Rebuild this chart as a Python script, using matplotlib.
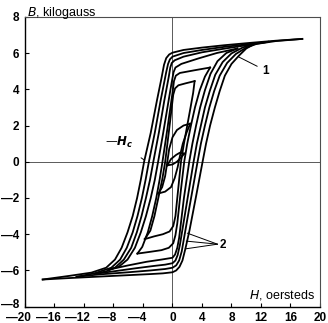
import matplotlib
matplotlib.use("Agg")
import matplotlib.pyplot as plt
from matplotlib.ticker import FuncFormatter
from matplotlib.transforms import ScaledTranslation

# ----------------------------------------
# Hysteresis loops of a soft magnetic steel
# ----------------------------------------
# Each loop is stored as two branches of (H [Oe], B [kG]) points:
# descending (from +tip to -tip) and ascending (from -tip to +tip).

# loop 1 - largest field amplitude
L1_DOWN = [(17.6, 6.78), (14.0, 6.68), (10.5, 6.56), (7.0, 6.43), (4.0, 6.3), (1.5, 6.17),
           (0.0, 6.02), (-0.45, 5.92), (-0.85, 5.72), (-1.15, 5.35), (-1.5, 4.6),
           (-2.1, 3.4), (-2.95, 1.6), (-3.85, 0.0), (-4.3, -1.0), (-4.8, -2.0),
           (-5.4, -3.0), (-6.1, -3.9), (-6.9, -4.75), (-7.8, -5.4), (-9.0, -5.85),
           (-11.0, -6.12), (-14.0, -6.3), (-17.6, -6.5)]
L1_UP = [(-17.6, -6.5), (-14.0, -6.42), (-10.0, -6.34), (-6.0, -6.26), (-3.0, -6.2),
         (-1.3, -6.16), (0.0, -6.1), (0.5, -6.0), (0.95, -5.8), (1.35, -5.45),
         (1.75, -4.8), (2.3, -3.8), (3.2, -1.9), (4.08, 0.0), (4.55, 1.0), (5.1, 2.0),
         (5.75, 3.0), (6.4, 3.9), (7.1, 4.75), (8.0, 5.4), (9.0, 5.85), (10.0, 6.25),
         (11.0, 6.48), (14.0, 6.66), (17.6, 6.78)]

# loop 2
L2_DOWN = [(13.0, 6.62), (10.5, 6.5), (7.0, 6.34), (4.0, 6.17), (1.5, 6.0), (0.0, 5.8),
           (-0.35, 5.65), (-0.6, 5.4), (-0.85, 4.95), (-1.6, 3.4), (-2.4, 1.6),
           (-3.2, 0.0), (-3.65, -1.0), (-4.15, -2.0), (-4.75, -3.0), (-5.4, -3.9),
           (-6.2, -4.75), (-7.1, -5.4), (-8.3, -5.85), (-10.5, -6.15), (-13.0, -6.35)]
L2_UP = [(-13.0, -6.35), (-10.0, -6.22), (-6.0, -6.1), (-3.0, -6.0), (-1.0, -5.92),
         (0.0, -5.85), (0.5, -5.72), (0.9, -5.45), (1.25, -4.95), (2.3, -2.5),
         (3.4, 0.0), (3.85, 1.0), (4.4, 2.0), (5.0, 3.0), (5.65, 3.9), (6.4, 4.75),
         (7.4, 5.45), (8.6, 5.95), (10.0, 6.3), (11.5, 6.52), (13.0, 6.62)]

# loop 3
L3_DOWN = [(10.8, 6.48), (7.0, 6.24), (4.0, 6.04), (1.5, 5.8), (0.3, 5.6), (-0.1, 5.45),
           (-0.3, 5.2), (-0.5, 4.7), (-1.1, 3.4), (-1.85, 1.6), (-2.6, 0.0),
           (-3.05, -1.0), (-3.6, -2.0), (-4.2, -3.0), (-4.84, -3.9), (-5.6, -4.75),
           (-6.6, -5.4), (-7.8, -5.85), (-9.0, -6.05), (-10.5, -6.18)]
L3_UP = [(-10.5, -6.18), (-8.0, -6.05), (-5.0, -5.88), (-2.5, -5.75), (-1.0, -5.68),
         (0.0, -5.6), (0.4, -5.45), (0.7, -5.15), (1.0, -4.6), (1.85, -2.5),
         (2.86, 0.0), (3.3, 1.0), (3.85, 2.0), (4.4, 3.0), (5.05, 3.9), (5.8, 4.8),
         (6.8, 5.5), (8.0, 5.98), (9.5, 6.3), (10.8, 6.48)]

# loop 4
L4_DOWN = [(8.8, 6.25), (6.0, 6.0), (3.5, 5.7), (1.2, 5.4), (0.4, 5.2), (0.15, 4.95),
           (-0.1, 4.4), (-0.6, 3.2), (-1.3, 1.5), (-1.95, 0.0), (-2.4, -1.0),
           (-2.95, -2.0), (-3.6, -3.0), (-4.3, -3.9), (-5.1, -4.75), (-6.1, -5.4),
           (-7.3, -5.8), (-8.6, -5.95)]
L4_UP = [(-8.6, -5.95), (-6.0, -5.72), (-3.5, -5.52), (-1.5, -5.4), (0.0, -5.3),
         (0.35, -5.12), (0.65, -4.75), (0.9, -4.2), (1.55, -2.0), (2.27, 0.0),
         (2.7, 1.0), (3.2, 2.0), (3.75, 3.0), (4.4, 3.95), (5.15, 4.85), (6.1, 5.55),
         (7.3, 6.0), (8.8, 6.25)]

# loop 5
L5_DOWN = [(5.1, 5.2), (3.0, 5.05), (1.0, 4.9), (0.45, 4.75), (0.2, 4.45), (0.0, 3.8),
           (-0.7, 1.8), (-1.36, 0.0), (-1.75, -1.0), (-2.2, -2.0), (-2.75, -3.0),
           (-3.35, -3.9), (-4.1, -4.7), (-4.76, -5.07)]
L5_UP = [(-4.76, -5.07), (-3.0, -4.97), (-1.5, -4.88), (-0.5, -4.75), (0.1, -4.5),
         (0.4, -4.05), (0.65, -3.4), (1.1, -1.7), (1.59, 0.0), (2.0, 1.0), (2.5, 2.0),
         (3.05, 3.0), (3.7, 3.95), (4.4, 4.7), (5.1, 5.2)]

# loop 6
L6_DOWN = [(3.0, 4.45), (1.8, 4.33), (0.8, 4.22), (0.35, 4.05), (0.1, 3.7), (-0.45, 1.8),
           (-0.99, 0.0), (-1.4, -1.0), (-1.8, -1.77), (-2.45, -3.0), (-3.0, -3.8),
           (-3.76, -4.27)]
L6_UP = [(-3.76, -4.27), (-2.5, -4.12), (-1.3, -4.0), (-0.4, -3.85), (0.1, -3.55),
         (0.4, -3.0), (0.75, -1.6), (1.15, 0.0), (1.55, 1.0), (2.0, 2.0), (2.45, 3.0),
         (2.8, 3.8), (3.0, 4.45)]

# loop 7 - small loop about the origin
L7_DOWN = [(2.4, 2.1), (1.5, 2.0), (0.6, 1.75), (0.0, 1.35), (-0.45, 0.7), (-0.7, 0.0),
           (-1.0, -0.8), (-1.4, -1.4), (-1.9, -1.75)]
L7_UP = [(-1.9, -1.75), (-1.0, -1.65), (-0.2, -1.4), (0.3, -0.9), (0.7, -0.3),
         (1.0, 0.3), (1.4, 1.0), (1.9, 1.6), (2.4, 2.1)]

# loop 8 - smallest loop
L8_DOWN = [(1.6, 0.45), (1.0, 0.5), (0.5, 0.38), (-0.2, 0.15), (-0.7, -0.2)]
L8_UP = [(-0.7, -0.2), (0.0, -0.15), (0.6, 0.0), (1.2, 0.25), (1.6, 0.45)]

LOOPS = [(L1_DOWN, L1_UP), (L2_DOWN, L2_UP), (L3_DOWN, L3_UP), (L4_DOWN, L4_UP),
         (L5_DOWN, L5_UP), (L6_DOWN, L6_UP), (L7_DOWN, L7_UP), (L8_DOWN, L8_UP)]

X_TICKS = [-20, -16, -12, -8, -4, 0, 4, 8, 12, 16, 20]
Y_TICKS = [-8, -6, -4, -2, 0, 2, 4, 6, 8]


def dash_minus(v, pos):
    v = int(round(v))
    return "\u2014" + str(abs(v)) if v < 0 else str(v)


def main():
    plt.rcParams["font.family"] = ["Liberation Sans", "DejaVu Sans"]

    fig = plt.figure(figsize=(3.28, 3.23), dpi=100)
    ax = fig.add_axes([0.0762, 0.0505, 0.8994, 0.8975])

    ax.axhline(0, color="0.35", lw=0.7, zorder=1)
    ax.axvline(0, color="0.35", lw=0.7, zorder=1)

    for down, up in LOOPS:
        for branch in (down, up):
            h = [p[0] for p in branch]
            b = [p[1] for p in branch]
            ax.plot(h, b, color="black", lw=1.3, solid_joinstyle="round", zorder=3)

    ax.set_xlim(-20, 20)
    ax.set_ylim(-8, 8)
    ax.set_xticks(X_TICKS)
    ax.set_yticks(Y_TICKS)
    ax.xaxis.set_major_formatter(FuncFormatter(dash_minus))
    ax.yaxis.set_major_formatter(FuncFormatter(dash_minus))
    ax.tick_params(direction="in", length=3, width=0.8)
    ax.tick_params(axis="x", pad=4)
    ax.tick_params(axis="y", pad=4)
    for lab in ax.get_xticklabels() + ax.get_yticklabels():
        lab.set_fontsize(8.5)
        lab.set_fontweight("bold")

    # negative H labels: shift left so the digits sit under the tick
    shift = ScaledTranslation(-4.5 / 72, 0, fig.dpi_scale_trans)
    for tick_val, lab in zip(X_TICKS, ax.get_xticklabels()):
        if tick_val < 0:
            lab.set_transform(lab.get_transform() + shift)
    # lift the bottom B label a little clear of the corner
    lift = ScaledTranslation(0, 2.5 / 72, fig.dpi_scale_trans)
    bottom_lab = ax.get_yticklabels()[0]
    bottom_lab.set_transform(bottom_lab.get_transform() + lift)

    for side in ("left", "bottom"):
        ax.spines[side].set_linewidth(1.0)
    for side in ("top", "right"):
        ax.spines[side].set_linewidth(0.8)
        ax.spines[side].set_color("0.3")

    # axis titles
    fig.text(0.083, 0.985, r"$B$, kilogauss", fontsize=9, va="top", ha="left")
    ax.text(19.3, -7.35, r"$H$, oersteds", fontsize=9, ha="right", va="center")

    # curve labels
    ax.annotate("1", xy=(8.95, 5.79), xytext=(12.2, 5.03), fontsize=8.5,
                fontweight="bold", ha="left", va="center",
                arrowprops=dict(arrowstyle="-", lw=0.7, color="black", shrinkA=2, shrinkB=0))
    for target in [(2.0, -3.94), (1.86, -4.38), (1.73, -4.81)]:
        ax.annotate("", xy=target, xytext=(6.1, -4.55),
                    arrowprops=dict(arrowstyle="-", lw=0.7, color="black",
                                    shrinkA=0, shrinkB=0))
    ax.text(6.4, -4.6, "2", fontsize=8.5, fontweight="bold", ha="left", va="center")
    ax.annotate("\u2014" + r"$\mathbfit{H}_{\mathbfit{c}}$", xy=(-3.85, 0.1),
                xytext=(-7.2, 1.05), fontsize=8.5, fontweight="bold",
                ha="center", va="center",
                arrowprops=dict(arrowstyle="-", lw=0.7, color="black", shrinkA=6, shrinkB=0))

    fig.savefig("out.png", dpi=100)


if __name__ == "__main__":
    main()
